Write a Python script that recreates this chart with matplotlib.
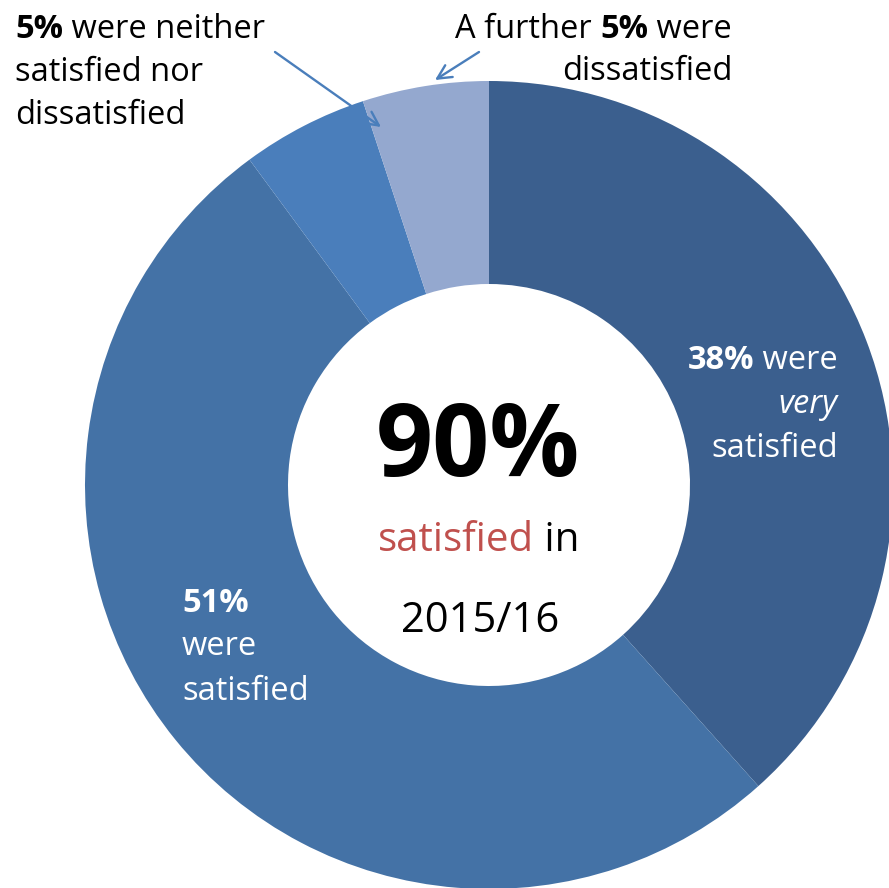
import matplotlib
matplotlib.use("Agg")
import matplotlib.pyplot as plt
from matplotlib.patches import FancyArrowPatch

plt.rcParams['font.family'] = ['Open Sans', 'DejaVu Sans']

# Satisfaction shares, 2015/16 (clockwise from the top)
categories = ["Very satisfied", "Satisfied", "Neither satisfied nor dissatisfied", "Dissatisfied"]
shares = [38, 51, 5, 5]
colors = ["#3B5F8E", "#4472A6", "#4A7EBB", "#94A8CF"]
headline = "90%"
period = "2015/16"

W, H = 889, 888
fig = plt.figure(figsize=(W / 100, H / 100), dpi=100)
ax = fig.add_axes([0, 0, 1, 1])

cx, cy = 489, H - 485
r_out, r_in = 404, 201
ax.pie(shares, colors=colors, radius=r_out, center=(cx, cy), startangle=90,
       counterclock=False, wedgeprops=dict(width=r_out - r_in, linewidth=0))
ax.set_xlim(0, W)
ax.set_ylim(0, H)
ax.set_aspect('auto')
ax.axis('off')

fig.canvas.draw()
renderer = fig.canvas.get_renderer()


def runs_line(x, y, runs, ha='left', size=23.5, color='black'):
    """Draw one line made of differently styled runs, sharing a baseline."""
    texts = []
    for s, weight, style, col in runs:
        t = ax.text(0, y, s, fontsize=size, fontweight=weight, fontstyle=style,
                    color=col or color, va='baseline', ha='left')
        texts.append(t)
    widths = [t.get_window_extent(renderer).width for t in texts]
    total = sum(widths)
    if ha == 'left':
        start = x
    elif ha == 'right':
        start = x - total
    else:
        start = x - total / 2
    pos = start
    for t, w in zip(texts, widths):
        t.set_x(pos)
        pos += w


def py(v):
    return H - v


B, N, I = 'bold', 'normal', 'italic'

# Top-left callout
runs_line(15, py(38), [("5%", B, N, None), (" were neither", N, N, None)])
runs_line(15, py(81), [("satisfied nor", N, N, None)])
runs_line(15, py(124), [("dissatisfied", N, N, None)])

# Top-right callout
runs_line(732, py(38), [("A further ", N, N, None), ("5%", B, N, None), (" were", N, N, None)], ha='right')
runs_line(732, py(80), [("dissatisfied", N, N, None)], ha='right')

# Labels inside the ring
runs_line(838, py(369), [("38%", B, N, 'white'), (" were", N, N, 'white')], ha='right')
runs_line(838, py(413), [("very", N, I, 'white')], ha='right')
runs_line(838, py(457), [("satisfied", N, N, 'white')], ha='right')

runs_line(182, py(612), [("51%", B, N, 'white')])
runs_line(182, py(655), [("were", N, N, 'white')])
runs_line(182, py(700), [("satisfied", N, N, 'white')])

# Centre text
runs_line(478, py(476), [(headline, B, N, None)], ha='center', size=72)
runs_line(479, py(551), [("satisfied", N, N, '#C0504D'), (" in", N, N, None)], ha='center', size=29)
runs_line(480, py(632), [(period, N, N, None)], ha='center', size=30)

# Callout arrows
arrow_kw = dict(arrowstyle='->,head_length=10,head_width=5', color='#4A7EBB', lw=1.7,
                mutation_scale=1, shrinkA=0, shrinkB=0)
ax.add_patch(FancyArrowPatch((275, py(52)), (381, py(127)), **arrow_kw))
ax.add_patch(FancyArrowPatch((479, py(52)), (435, py(80)), **arrow_kw))

fig.savefig("out.png", dpi=100)
